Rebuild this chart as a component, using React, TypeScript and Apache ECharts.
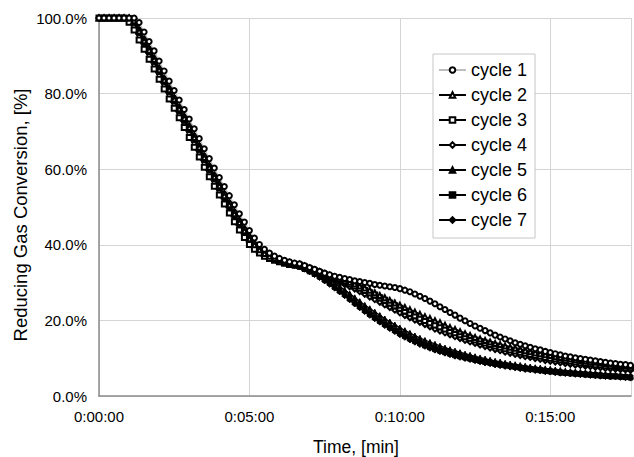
import React, { useEffect, useRef } from "react";
import * as echarts from "echarts";

// sample times in seconds
const times = [
  0, 10, 20, 30, 40, 50, 60, 70, 80, 90,
  100, 110, 120, 130, 140, 150, 160, 170, 180, 190,
  200, 210, 220, 230, 240, 250, 260, 270, 280, 290,
  300, 310, 320, 330, 340, 350, 360, 370, 380, 390,
  400, 410, 420, 430, 440, 450, 460, 470, 480, 490,
  500, 510, 520, 530, 540, 550, 560, 570, 580, 590,
  600, 610, 620, 630, 640, 650, 660, 670, 680, 690,
  700, 710, 720, 730, 740, 750, 760, 770, 780, 790,
  800, 810, 820, 830, 840, 850, 860, 870, 880, 890,
  900, 910, 920, 930, 940, 950, 960, 970, 980, 990,
  1000, 1010, 1020, 1030, 1040, 1050, 1060,
];

const cycle1 = [
  100, 100, 100, 100, 100, 100, 100, 100, 98.8, 96.3,
  93.8, 91.3, 88.6, 86.0, 83.3, 80.8, 78.3, 75.8, 73.3, 70.7,
  68.1, 65.4, 62.8, 60.3, 57.8, 55.4, 53.0, 50.6, 48.2, 46.0,
  43.8, 41.8, 40.1, 38.8, 37.8, 37.0, 36.4, 35.9, 35.5, 35.2,
  35.0, 34.5, 34.0, 33.5, 33.0, 32.5, 32.1, 31.7, 31.4, 31.1,
  30.8, 30.5, 30.3, 30.0, 29.8, 29.5, 29.3, 29.1, 28.9, 28.7,
  28.4, 28.0, 27.6, 27.0, 26.4, 25.8, 25.1, 24.4, 23.6, 22.9,
  22.1, 21.4, 20.6, 19.9, 19.2, 18.5, 17.9, 17.3, 16.7, 16.1,
  15.6, 15.1, 14.6, 14.1, 13.7, 13.3, 12.9, 12.5, 12.2, 11.8,
  11.5, 11.2, 10.9, 10.6, 10.4, 10.1, 9.9, 9.7, 9.5, 9.3,
  9.1, 8.9, 8.7, 8.6, 8.4, 8.3, 8.1,
];

const cycle2 = [
  100, 100, 100, 100, 100, 100, 100, 99.3, 96.5, 94.0,
  91.5, 89.0, 86.3, 83.6, 81.0, 78.5, 76.0, 73.5, 71.0, 68.4,
  65.8, 63.1, 60.5, 58.0, 55.6, 53.0, 50.6, 48.2, 45.9, 43.7,
  41.6, 40.0, 38.7, 37.7, 37.0, 36.4, 35.9, 35.5, 35.2, 34.9,
  34.8, 34.3, 33.8, 33.3, 32.8, 32.3, 31.9, 31.4, 31.0, 30.5,
  30.1, 29.6, 29.1, 28.6, 28.0, 27.3, 26.6, 26.0, 25.3, 24.6,
  24.0, 23.4, 22.8, 22.2, 21.6, 21.0, 20.5, 19.9, 19.4, 18.7,
  18.1, 17.6, 17.0, 16.5, 16.0, 15.5, 15.1, 14.7, 14.3, 13.9,
  13.6, 13.2, 12.9, 12.6, 12.3, 12.0, 11.7, 11.4, 11.2, 10.9,
  10.7, 10.4, 10.2, 10.0, 9.8, 9.6, 9.4, 9.2, 9.0, 8.9,
  8.7, 8.6, 8.4, 8.3, 8.1, 8.0, 7.9,
];

const cycle3 = [
  100, 100, 100, 100, 100, 100, 98.9, 96.8, 94.2, 91.7,
  89.1, 86.5, 83.8, 81.2, 78.6, 76.1, 73.6, 71.0, 68.4, 65.8,
  63.2, 60.5, 58.0, 55.5, 53.2, 50.8, 48.4, 46.1, 43.9, 41.9,
  40.1, 38.8, 37.8, 37.0, 36.4, 35.9, 35.5, 35.1, 34.8, 34.7,
  34.6, 34.1, 33.6, 33.1, 32.6, 32.1, 31.6, 31.1, 30.6, 30.1,
  29.6, 29.1, 28.5, 27.9, 27.3, 26.7, 26.0, 25.3, 24.6, 23.9,
  23.2, 22.5, 21.9, 21.2, 20.6, 20.0, 19.4, 18.8, 18.3, 17.7,
  17.2, 16.7, 16.2, 15.7, 15.3, 14.8, 14.4, 14.0, 13.6, 13.2,
  12.9, 12.5, 12.2, 11.9, 11.6, 11.3, 11.0, 10.7, 10.5, 10.2,
  10.0, 9.8, 9.6, 9.4, 9.2, 9.0, 8.8, 8.6, 8.5, 8.3,
  8.2, 8.0, 7.9, 7.8, 7.6, 7.5, 7.4,
];

const cycle4 = [
  100, 100, 100, 100, 100, 100, 100, 99.8, 97.0, 94.5,
  92.0, 89.5, 86.8, 84.1, 81.5, 79.0, 76.5, 74.0, 71.5, 68.9,
  66.3, 63.6, 61.0, 58.5, 56.1, 53.6, 51.2, 48.8, 46.5, 44.3,
  42.2, 40.5, 39.1, 38.0, 37.2, 36.6, 36.0, 35.5, 35.1, 34.8,
  34.5, 34.0, 33.4, 32.9, 32.3, 31.8, 31.2, 30.7, 30.1, 29.5,
  28.9, 28.3, 27.6, 26.9, 26.2, 25.5, 24.8, 24.1, 23.4, 22.7,
  22.0, 21.3, 20.7, 20.1, 19.5, 18.9, 18.3, 17.7, 17.2, 16.7,
  16.2, 15.7, 15.2, 14.7, 14.3, 13.9, 13.5, 13.1, 12.7, 12.3,
  12.0, 11.6, 11.3, 11.0, 10.7, 10.4, 10.2, 9.9, 9.7, 9.4,
  9.2, 9.0, 8.8, 8.6, 8.4, 8.2, 8.1, 7.9, 7.8, 7.6,
  7.5, 7.3, 7.2, 7.1, 7.0, 6.9, 6.8,
];

const cycle5 = [
  100, 100, 100, 100, 100, 100, 100, 98.6, 96.0, 93.4,
  90.9, 88.3, 85.7, 83.0, 80.4, 77.9, 75.4, 72.8, 70.3, 67.7,
  65.0, 62.4, 59.8, 57.3, 54.9, 52.4, 50.0, 47.6, 45.3, 43.1,
  41.1, 39.6, 38.4, 37.5, 36.8, 36.2, 35.7, 35.3, 34.9, 34.6,
  34.3, 33.8, 33.3, 32.8, 32.1, 31.5, 30.7, 29.9, 29.0, 28.1,
  27.1, 26.1, 25.1, 24.1, 23.2, 22.3, 21.4, 20.5, 19.7, 18.9,
  18.1, 17.4, 16.7, 16.0, 15.4, 14.8, 14.3, 13.8, 13.3, 12.8,
  12.4, 12.0, 11.6, 11.2, 10.9, 10.5, 10.2, 9.9, 9.6, 9.3,
  9.1, 8.8, 8.6, 8.4, 8.2, 8.0, 7.8, 7.6, 7.5, 7.3,
  7.2, 7.0, 6.9, 6.7, 6.6, 6.5, 6.4, 6.3, 6.2, 6.1,
  6.0, 5.9, 5.8, 5.7, 5.6, 5.5, 5.5,
];

const cycle6 = [
  100, 100, 100, 100, 100, 100, 100, 99.2, 96.6, 94.0,
  91.4, 88.8, 86.2, 83.6, 81.0, 78.4, 75.9, 73.3, 70.8, 68.2,
  65.6, 63.0, 60.4, 57.9, 55.4, 52.9, 50.5, 48.1, 45.8, 43.6,
  41.5, 39.9, 38.6, 37.6, 36.9, 36.3, 35.8, 35.3, 34.9, 34.5,
  34.2, 33.6, 33.0, 32.3, 31.6, 30.8, 29.9, 28.9, 27.9, 26.9,
  25.8, 24.8, 23.7, 22.7, 21.7, 20.8, 19.9, 19.0, 18.2, 17.4,
  16.6, 15.9, 15.2, 14.6, 14.0, 13.4, 12.9, 12.4, 12.0, 11.6,
  11.2, 10.8, 10.5, 10.2, 9.9, 9.6, 9.3, 9.0, 8.8, 8.5,
  8.3, 8.1, 7.9, 7.7, 7.5, 7.3, 7.1, 7.0, 6.8, 6.6,
  6.5, 6.4, 6.2, 6.1, 6.0, 5.9, 5.8, 5.7, 5.6, 5.5,
  5.4, 5.3, 5.2, 5.2, 5.1, 5.0, 4.9,
];

const cycle7 = [
  100, 100, 100, 100, 100, 100, 100, 98.9, 96.3, 93.7,
  91.2, 88.6, 86.0, 83.3, 80.7, 78.2, 75.6, 73.1, 70.5, 67.9,
  65.3, 62.7, 60.1, 57.6, 55.1, 52.7, 50.3, 47.9, 45.6, 43.4,
  41.3, 39.7, 38.5, 37.5, 36.8, 36.2, 35.7, 35.2, 34.8, 34.4,
  34.0, 33.4, 32.7, 32.0, 31.2, 30.3, 29.4, 28.4, 27.4, 26.4,
  25.3, 24.2, 23.2, 22.2, 21.2, 20.3, 19.4, 18.5, 17.7, 16.9,
  16.1, 15.4, 14.7, 14.1, 13.5, 13.0, 12.5, 12.0, 11.6, 11.2,
  10.8, 10.4, 10.1, 9.8, 9.5, 9.2, 8.9, 8.6, 8.4, 8.1,
  7.9, 7.7, 7.5, 7.3, 7.1, 6.9, 6.8, 6.6, 6.5, 6.3,
  6.2, 6.0, 5.9, 5.8, 5.7, 5.6, 5.5, 5.4, 5.3, 5.2,
  5.1, 5.0, 4.9, 4.9, 4.8, 4.7, 4.6,
];

const seriesNames = ["cycle 1", "cycle 2", "cycle 3", "cycle 4", "cycle 5", "cycle 6", "cycle 7"];
const seriesValues = [cycle1, cycle2, cycle3, cycle4, cycle5, cycle6, cycle7];
const seriesSymbols = ["emptyCircle", "emptyTriangle", "emptyRect", "emptyDiamond", "triangle", "rect", "diamond"];
const seriesLineColors = ["#bdbdbd", "#000", "#000", "#000", "#000", "#000", "#000"];

const xTitle = "Time, [min]";
const yTitle = "Reducing Gas Conversion, [%]";

const FONT = "'Liberation Sans', Arial, sans-serif";

function fmtTime(sec: number): string {
  const h = Math.floor(sec / 3600);
  const m = Math.floor((sec % 3600) / 60);
  const s = Math.round(sec % 60);
  return `${h}:${String(m).padStart(2, "0")}:${String(s).padStart(2, "0")}`;
}

export default function App() {
  const ref = useRef<HTMLDivElement>(null);
  useEffect(() => {
    if (!ref.current) return;
    const chart = echarts.init(ref.current, undefined, { renderer: "svg" });
    const series = seriesNames.map((name, i) => ({
      type: "line",
      name,
      data: times.map((t, j) => [t, seriesValues[i][j]]),
      symbol: seriesSymbols[i],
      symbolSize: 5,
      showAllSymbol: true,
      lineStyle: { color: seriesLineColors[i], width: 1.2 },
      itemStyle: { color: "#000", borderColor: "#000", borderWidth: 1 },
      z: 10 - i,
    }));
    chart.setOption({
      animation: false,
      backgroundColor: "#fff",
      textStyle: { fontFamily: FONT },
      grid: { left: 99, right: 0, top: 18, bottom: 61, containLabel: false },
      legend: {
        orient: "vertical",
        left: 433,
        top: 54,
        padding: [7, 8, 9, 5],
        itemWidth: 27,
        itemHeight: 7,
        itemGap: 7,
        backgroundColor: "#fff",
        borderColor: "#c6c6c6",
        borderWidth: 1,
        borderRadius: 0,
        textStyle: { fontSize: 18, color: "#000", fontFamily: FONT },
        data: seriesNames,
      },
      graphic: [
        {
          type: "text",
          x: 356,
          y: 447,
          style: {
            text: xTitle,
            x: 0,
            y: 0,
            fontSize: 17.5,
            fontFamily: FONT,
            fill: "#000",
            align: "center",
            verticalAlign: "middle",
          },
        },
        {
          type: "text",
          x: 20,
          y: 215,
          rotation: Math.PI / 2,
          style: {
            text: yTitle,
            x: 0,
            y: 0,
            fontSize: 18.5,
            fontFamily: FONT,
            fill: "#000",
            align: "center",
            verticalAlign: "middle",
          },
        },
      ],
      xAxis: {
        type: "value",
        min: 0,
        max: 1061,
        interval: 300,
        axisLine: { show: true, lineStyle: { color: "#8c8c8c", width: 1.5 } },
        axisTick: { show: false },
        axisLabel: {
          fontSize: 15,
          color: "#000",
          margin: 13,
          fontFamily: FONT,
          formatter: (v: number) => (v % 300 === 0 ? fmtTime(v) : ""),
        },
        splitLine: { show: true, lineStyle: { color: "#d4d4d4", width: 1 } },
      },
      yAxis: {
        type: "value",
        min: 0,
        max: 100,
        interval: 20,
        axisLine: { show: true, lineStyle: { color: "#8c8c8c", width: 1.5 } },
        axisTick: { show: false },
        axisLabel: {
          fontSize: 15,
          color: "#000",
          margin: 12,
          fontFamily: FONT,
          formatter: (v: number) => `${v.toFixed(1)}%`,
        },
        splitLine: { show: true, lineStyle: { color: "#d4d4d4", width: 1 } },
      },
      series,
    });
    return () => chart.dispose();
  }, []);
  return (
    <div
      ref={ref}
      style={{ position: "fixed", left: 0, top: 0, width: 634, height: 457, background: "#fff" }}
    />
  );
}
